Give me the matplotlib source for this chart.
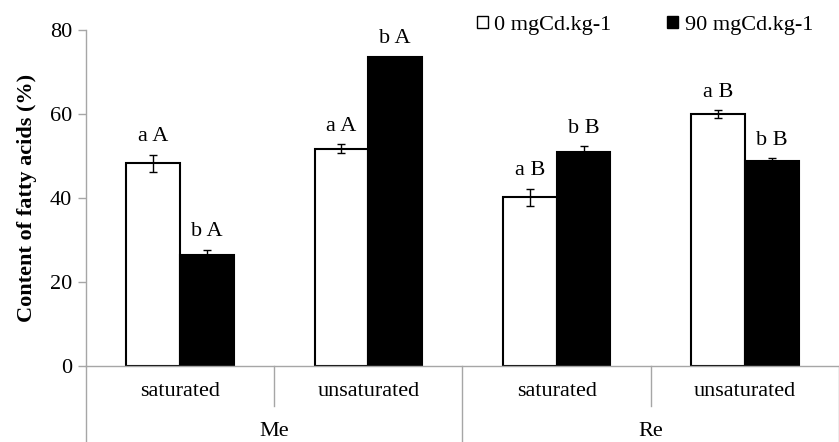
import matplotlib.pyplot as plt
from matplotlib.patches import Patch
import numpy as np

plt.rcParams['font.family'] = ['Liberation Serif', 'DejaVu Serif']

# donnees
groups = ['Me', 'Re']
subgroups = ['saturated', 'unsaturated', 'saturated', 'unsaturated']
cd0 = [48.2, 51.7, 40.1, 59.9]
cd0_err = [2.0, 1.0, 2.0, 0.9]
cd90 = [26.5, 73.4, 51.0, 48.8]
cd90_err = [1.1, 0.2, 1.2, 0.6]
lab0 = ['a A', 'a A', 'a B', 'a B']
lab90 = ['b A', 'b A', 'b B', 'b B']
series_names = ['0 mgCd.kg-1', '90 mgCd.kg-1']

grey = '#a6a6a6'
w = 0.286
x = np.arange(len(subgroups))

fig = plt.figure(figsize=(8.39, 4.42), dpi=100)
ax = fig.add_axes([0.1025, 0.172, 0.8975, 0.761])

ax.bar(x - w / 2, cd0, w, color='white', edgecolor='black', linewidth=1.5,
       yerr=cd0_err, error_kw=dict(ecolor='black', elinewidth=1, capsize=3, capthick=1))
ax.bar(x + w / 2, cd90, w, color='black', edgecolor='black', linewidth=1.5,
       yerr=cd90_err, error_kw=dict(ecolor='black', elinewidth=1, capsize=3, capthick=1))

for i in range(len(x)):
    ax.annotate(lab0[i], (x[i] - w / 2, cd0[i] + cd0_err[i]), xytext=(0, 13),
                textcoords='offset points', ha='center', va='center', fontsize=16)
    ax.annotate(lab90[i], (x[i] + w / 2, cd90[i] + cd90_err[i]), xytext=(0, 13),
                textcoords='offset points', ha='center', va='center', fontsize=16)

ax.set_xlim(-0.5, len(x) - 0.5)
ax.set_ylim(0, 80)
ax.set_yticks([0, 20, 40, 60, 80])
ax.tick_params(axis='y', labelsize=16, color=grey, length=6, width=1, pad=4)
ax.set_xticks([])
ax.set_ylabel('Content of fatty acids (%)', fontsize=16, fontweight='bold', labelpad=9)

for s in ['top', 'right']:
    ax.spines[s].set_visible(False)
for s in ['left', 'bottom']:
    ax.spines[s].set_color(grey)
    ax.spines[s].set_linewidth(1)

# etiquettes et separateurs sous l'axe
tr = ax.get_xaxis_transform()
for i, name in enumerate(subgroups):
    ax.text(x[i], -0.077, name, transform=tr, ha='center', va='center', fontsize=16)
for i in range(len(x) + 1):
    xb = i - 0.5
    y_end = -0.23 if i % 2 == 0 else -0.119
    ax.plot([xb, xb], [0, y_end], transform=tr, color=grey, lw=1, clip_on=False)
for g, name in enumerate(groups):
    ax.text(2 * g + 0.5, -0.196, name, transform=tr, ha='center', va='center', fontsize=16)

handles = [Patch(facecolor='white', edgecolor='black', linewidth=1),
           Patch(facecolor='black', edgecolor='black', linewidth=1)]
fig.legend(handles, series_names, loc='center left', bbox_to_anchor=(0.568, 0.943),
           ncol=2, frameon=False, fontsize=16, handlelength=0.5, handleheight=0.5,
           handletextpad=0.3, columnspacing=2.5, borderaxespad=0, borderpad=0)

fig.savefig('out.png', dpi=100)
